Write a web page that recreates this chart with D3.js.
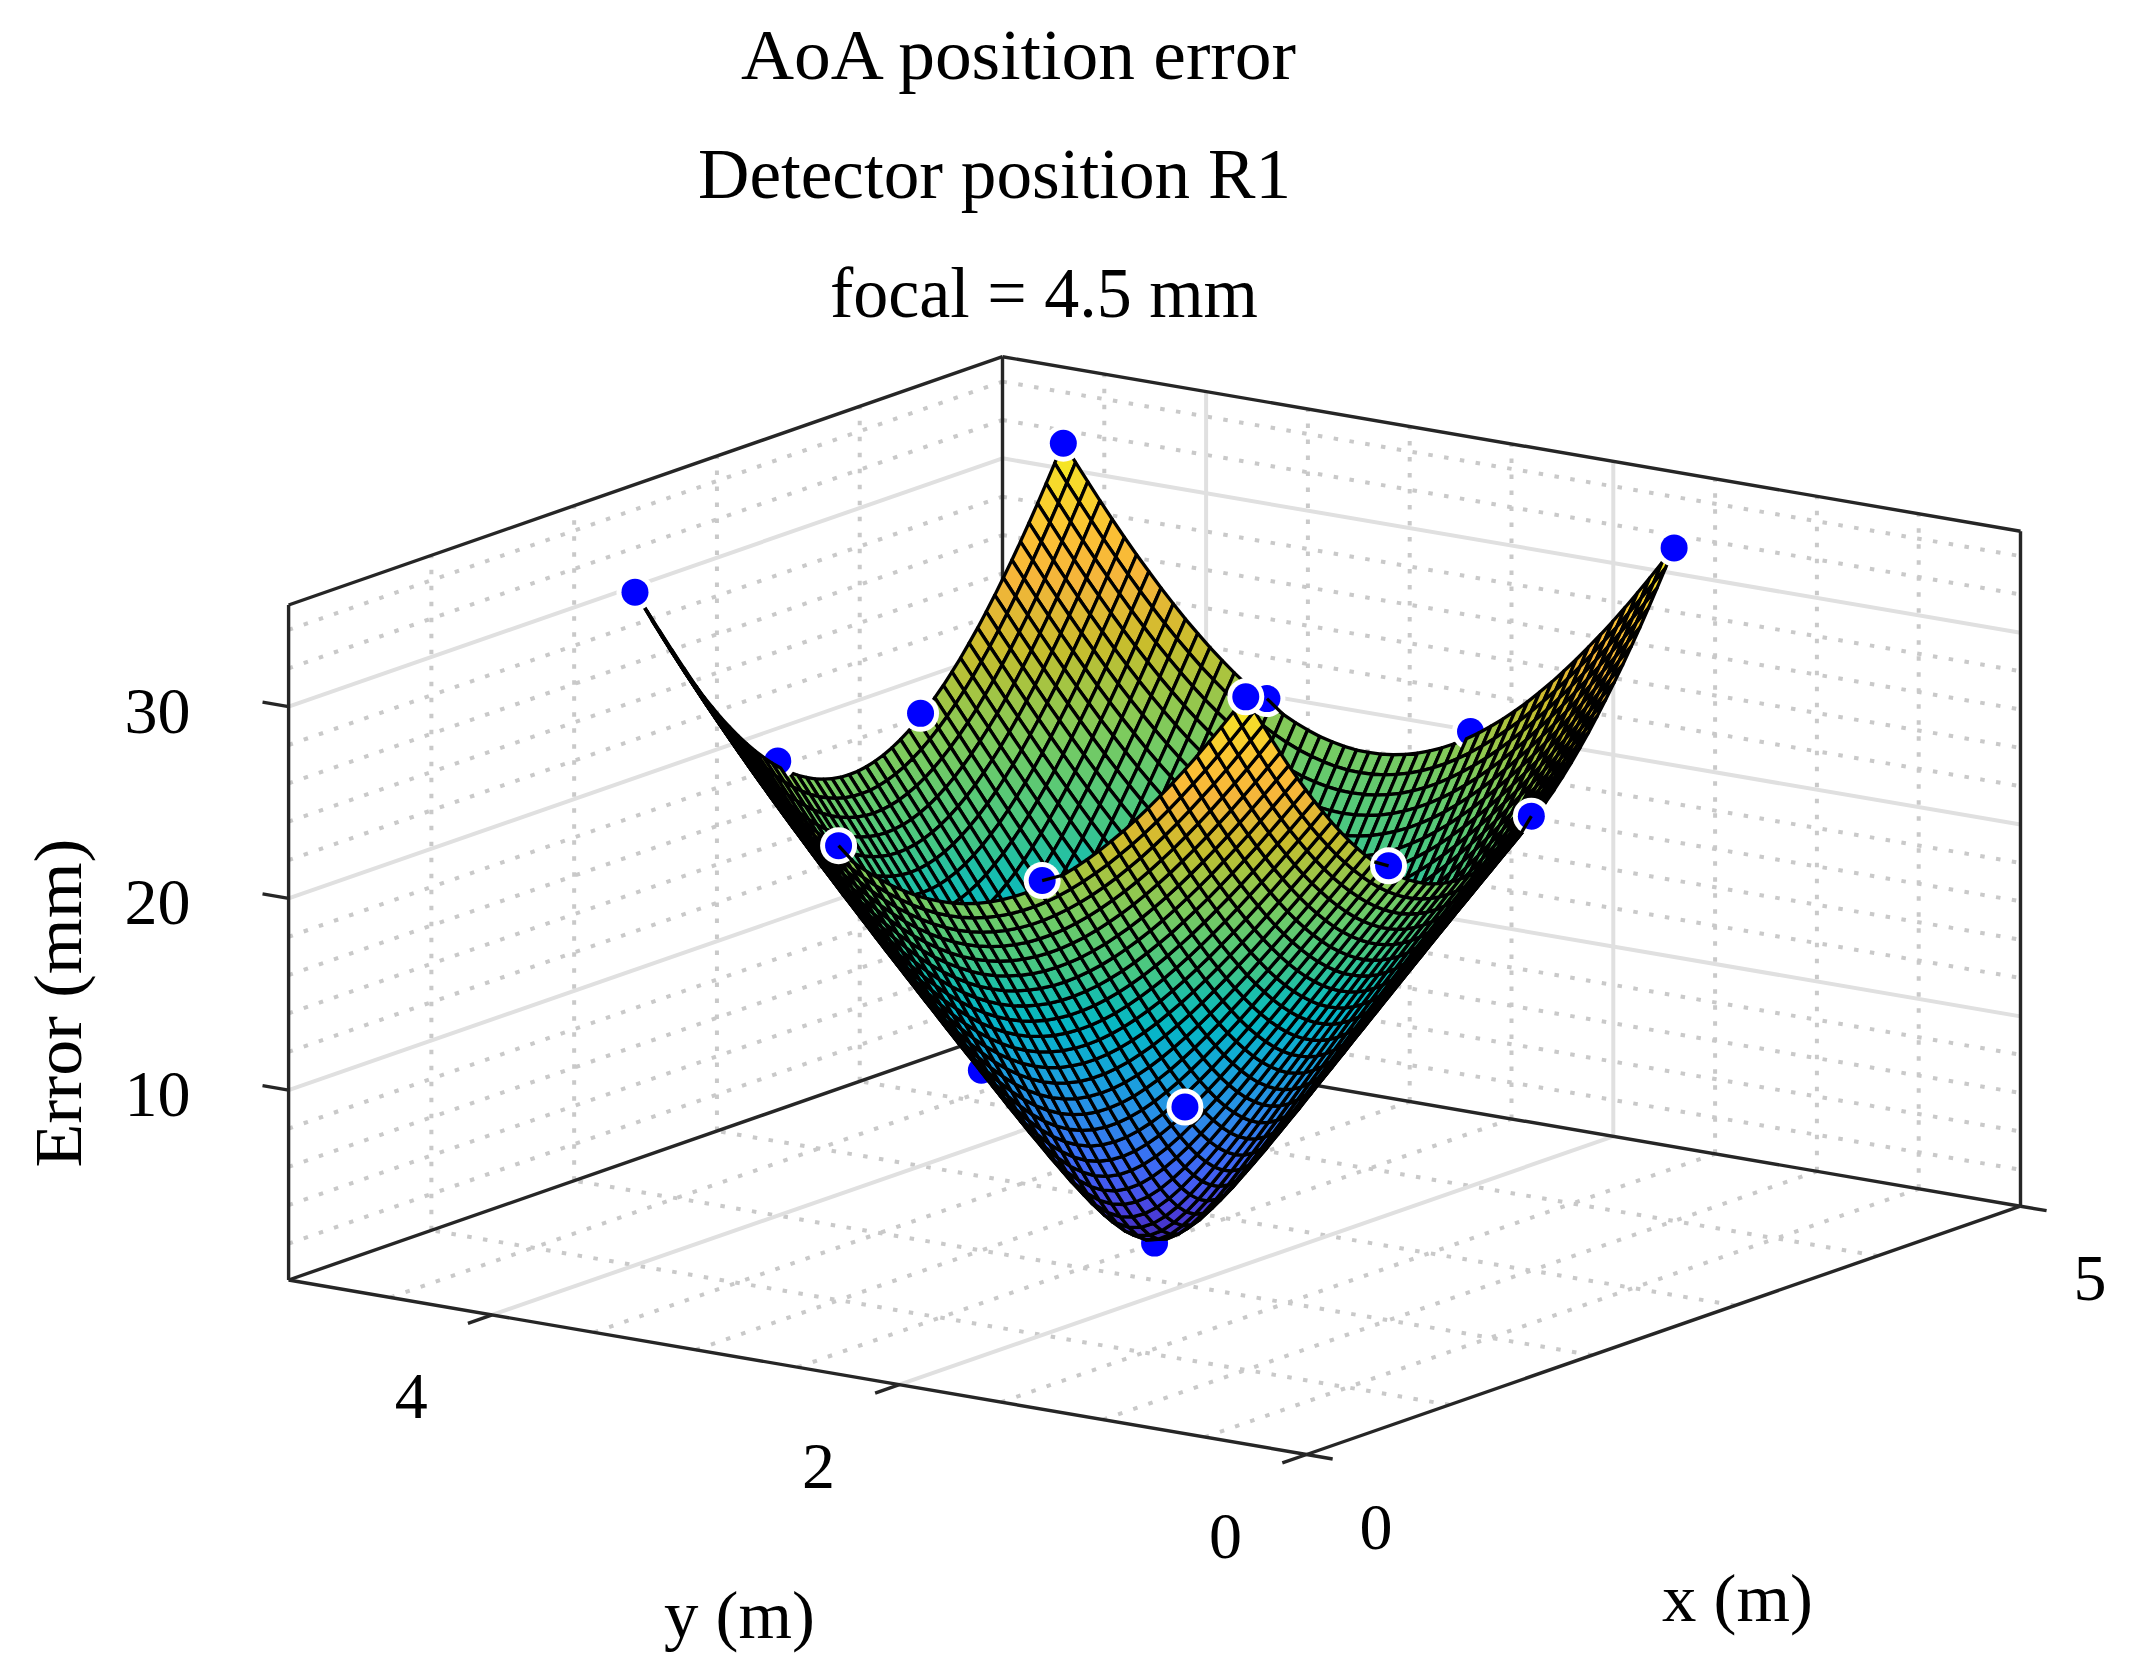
<!DOCTYPE html>
<html>
<head>
<meta charset="utf-8">
<script src="https://cdn.jsdelivr.net/npm/d3@7"></script>
<style>
  html, body { margin: 0; background: #fff; }
  text { font-family: "Liberation Serif", serif; fill: #000; }
</style>
</head>
<body>
<div id="chart"></div>
<script>
// measured points, read off the picture (x, y in m, error in mm)
// 3,2 and 3,3 are hidden behind the surface, so their values are a guess
var pointX = [4, 4, 1, 3, 2, 4, 3, 3, 2, 2.5, 2, 3, 4, 1, 1, 2, 1];
var pointY = [4, 1, 4, 4, 4, 3, 2, 3, 3, 2.5, 2, 1, 2, 2, 3, 1, 1];
var pointZ = [35.2, 35.2, 35.2, 23.7, 23.8, 23.7, 10.5, 9.4, 9.5, 0.1, 9.4, 23.8, 23.8, 23.8, 23.8, 23.8, 35.2];
// these sit in front of the mesh, the others go in depth order with it
var frontPoints = [0, 1, 2, 3, 5, 10, 11, 13, 14, 15, 16];
// points with a bit of mesh line showing on top: point, then mesh node (column, row)
var pokePoints = [[5, 50, 32], [11, 32, 0], [13, 0, 15], [14, 0, 32], [15, 15, 0]];

var xTicks = [0, 5], xMinor = [1, 2, 3, 4];
var yTicks = [0, 2, 4], yMinor = [0.5, 1, 1.5, 2.5, 3, 3.5, 4.5];
var zTicks = [10, 20, 30], zMinor = [2, 4, 6, 8, 12, 14, 16, 18, 22, 24, 26, 28, 32, 34];

var titleLines = ["AoA position error", "Detector position R1", "focal = 4.5 mm"];

var colorStops = [0, 0.07, 0.11, 0.17, 0.24, 0.32, 0.41, 0.47, 0.51, 0.565, 0.622, 0.693, 0.737, 0.82, 0.878, 0.963, 1];
var colorList = ["#3e26a8", "#4a3fdc", "#4558ef", "#3a6ff5", "#2b8be8", "#18a3dc", "#05b7c5", "#1dbfa8", "#45c785",
                 "#5cc974", "#7ccb5f", "#a8c440", "#c9bd2c", "#f5b53a", "#fcc035", "#f5e028", "#f8f01c"];

// surface error (mm), estimated by eye: smoothed through the 17 points above and the
// mesh edges in the picture. The mesh has 51 x 51 nodes over 1..4 m. The picture looks
// the same in all four quadrants and across the diagonal, so only one triangle is kept:
// row = nodes from the centre along the longer side, column = along the shorter side.
var errorRows = [
[0.30],
[0.43,0.56],
[0.81,0.93,1.28],
[1.39,1.50,1.81,2.30],
[2.10,2.20,2.48,2.92,3.49],
[2.92,3.00,3.25,3.64,4.16,4.79],
[3.79,3.87,4.09,4.44,4.92,5.49,6.14],
[4.71,4.78,4.98,5.30,5.73,6.25,6.85,7.52],
[5.66,5.72,5.90,6.19,6.58,7.06,7.62,8.25,8.93],
[6.62,6.67,6.84,7.10,7.46,7.91,8.43,9.01,9.66,10.35],
[7.59,7.64,7.79,8.03,8.37,8.78,9.26,9.81,10.42,11.07,11.77],
[8.57,8.62,8.75,8.98,9.29,9.67,10.12,10.64,11.21,11.83,12.50,13.20],
[9.55,9.60,9.72,9.93,10.22,10.57,11.00,11.49,12.03,12.62,13.26,13.93,14.63],
[10.53,10.57,10.69,10.88,11.15,11.49,11.89,12.35,12.87,13.43,14.04,14.68,15.36,16.07],
[11.51,11.54,11.65,11.84,12.09,12.41,12.79,13.23,13.72,14.26,14.84,15.47,16.12,16.81,17.53],
[12.48,12.51,12.62,12.79,13.03,13.33,13.69,14.11,14.58,15.10,15.66,16.26,16.90,17.57,18.27,18.99],
[13.45,13.48,13.58,13.74,13.97,14.26,14.60,15.00,15.45,15.95,16.50,17.08,17.69,18.35,19.03,19.74,20.47],
[14.41,14.44,14.53,14.69,14.91,15.18,15.51,15.90,16.33,16.81,17.34,17.90,18.51,19.14,19.81,20.50,21.22,21.97],
[15.36,15.39,15.48,15.63,15.84,16.10,16.42,16.80,17.21,17.68,18.19,18.74,19.33,19.95,20.60,21.29,22.00,22.73,23.49],
[16.31,16.33,16.42,16.57,16.77,17.02,17.33,17.69,18.10,18.55,19.05,19.59,20.16,20.77,21.41,22.09,22.79,23.51,24.26,25.04],
[17.24,17.27,17.36,17.50,17.69,17.94,18.24,18.59,18.98,19.43,19.91,20.44,21.00,21.60,22.24,22.90,23.59,24.31,25.06,25.83,26.62],
[18.17,18.20,18.28,18.42,18.61,18.85,19.14,19.48,19.87,20.30,20.78,21.30,21.85,22.44,23.07,23.73,24.41,25.13,25.87,26.64,27.43,28.24],
[19.09,19.12,19.20,19.33,19.52,19.75,20.04,20.37,20.75,21.18,21.65,22.16,22.71,23.29,23.91,24.56,25.25,25.96,26.70,27.47,28.26,29.07,29.91],
[20.00,20.03,20.11,20.24,20.42,20.65,20.93,21.26,21.64,22.06,22.52,23.02,23.56,24.14,24.76,25.41,26.09,26.80,27.54,28.31,29.11,29.92,30.76,31.63],
[20.91,20.93,21.01,21.14,21.32,21.54,21.82,22.14,22.51,22.93,23.39,23.89,24.43,25.00,25.62,26.26,26.94,27.66,28.40,29.17,29.97,30.79,31.64,32.51,33.40],
[21.80,21.82,21.90,22.03,22.20,22.43,22.70,23.02,23.39,23.80,24.26,24.75,25.29,25.86,26.48,27.12,27.81,28.52,29.27,30.04,30.84,31.67,32.53,33.41,34.31,35.24]
];

var w = 2129,
    h = 1679,
    svg = d3.select("#chart")
    .append("svg")
    .attr("width", w)
    .attr("height", h)
    .style("display", "block");

// corners of the axes box on the page. x=0,y=0 is the front corner
var front = [1306.6, 1454.5],
    xEdge = [713.9, -248.3],
    yEdge = [-1018, -174.5],
    zHeight = 675;

var xScale = d3.scaleLinear().domain([0, 5]).range([0, 1]);
var yScale = d3.scaleLinear().domain([0, 5]).range([0, 1]);
var zScale = d3.scaleLinear().domain([0.1, 35.3]).range([0, 1]);
var nodeScale = d3.scaleLinear().domain([0, 50]).range([1, 4]);
var colorScale = d3.scaleLinear().domain(colorStops.map(zScale.invert)).range(colorList);

var project = function(x, y, z) {
    var u = xScale(x), v = yScale(y), t = zScale(z);
    return [front[0] + u * xEdge[0] + v * yEdge[0],
            front[1] + u * xEdge[1] + v * yEdge[1] - t * zHeight];
};
var zLow = zScale.domain()[0], zHigh = zScale.domain()[1];
var line = d3.line();

// value at a mesh node, unfolded from the stored triangle
var nodeZ = function(i, j) {
    var a = Math.abs(i - 25), b = Math.abs(j - 25);
    return errorRows[Math.max(a, b)][Math.min(a, b)];
};

var seg = function(parent, a, b, color, width, dash) {
    parent.append("path")
        .attr("d", line([a, b]))
        .attr("fill", "none")
        .attr("stroke", color)
        .attr("stroke-width", width)
        .attr("stroke-dasharray", dash);
};

// grid, minor first then major
var grid = svg.append("g");
var minor = function(a, b) { seg(grid, a, b, "#c9c9c9", 4, "4.5 11.5"); };
var major = function(a, b) { seg(grid, a, b, "#e0e0e0", 4, null); };

zMinor.forEach(function(z) {
    minor(project(0, 5, z), project(5, 5, z));
    minor(project(5, 5, z), project(5, 0, z));
});
xMinor.forEach(function(x) {
    minor(project(x, 5, zLow), project(x, 5, zHigh));
    minor(project(x, 0, zLow), project(x, 5, zLow));
});
yMinor.forEach(function(y) {
    minor(project(5, y, zLow), project(5, y, zHigh));
    minor(project(0, y, zLow), project(5, y, zLow));
});
zTicks.forEach(function(z) {
    major(project(0, 5, z), project(5, 5, z));
    major(project(5, 5, z), project(5, 0, z));
});
yTicks.slice(1).forEach(function(y) {
    major(project(5, y, zLow), project(5, y, zHigh));
    major(project(0, y, zLow), project(5, y, zLow));
});

// box and ticks
var box = svg.append("g");
var boxLine = function(a, b) { seg(box, a, b, "#262626", 3.4, null); };
boxLine(project(0, 5, zLow), project(0, 5, zHigh));
boxLine(project(5, 0, zLow), project(5, 0, zHigh));
boxLine(project(5, 5, zLow), project(5, 5, zHigh));
boxLine(project(0, 5, zHigh), project(5, 5, zHigh));
boxLine(project(5, 5, zHigh), project(5, 0, zHigh));
boxLine(project(0, 5, zLow), project(5, 5, zLow));
boxLine(project(5, 5, zLow), project(5, 0, zLow));
boxLine(project(0, 5, zLow), project(0, 0, zLow));
boxLine(project(0, 0, zLow), project(5, 0, zLow));
zTicks.forEach(function(z) { boxLine(project(0, 5, z), project(0, 5.128, z)); });
yTicks.forEach(function(y) { boxLine(project(0, y, zLow), project(-0.17, y, zLow)); });
xTicks.forEach(function(x) { boxLine(project(x, 0, zLow), project(x, -0.128, zLow)); });

// surface and points, far to near
var depth = function(x, y) { return 150 * x + 105.2 * y; };
var items = [];
d3.range(50).forEach(function(i) {
    d3.range(50).forEach(function(j) {
        items.push({
            i: i, j: j,
            key: depth(nodeScale(i + 0.5), nodeScale(j + 0.5))
        });
    });
});
pointX.forEach(function(x, k) {
    if (frontPoints.indexOf(k) < 0) {
        items.push({ point: k, key: depth(x, pointY[k]) });
    }
});
items.sort(function(a, b) { return b.key - a.key; });

var surface = svg.append("g");

var drawPoint = function(k) {
    var p = project(pointX[k], pointY[k], pointZ[k]);
    surface.append("circle").attr("cx", p[0]).attr("cy", p[1]).attr("r", 18.5).attr("fill", "#fff");
    surface.append("circle").attr("cx", p[0]).attr("cy", p[1]).attr("r", 13.5).attr("fill", "#0000ff");
};

items.forEach(function(d) {
    if (d.point !== undefined) {
        drawPoint(d.point);
        return;
    }
    var corners = [[d.i, d.j], [d.i + 1, d.j], [d.i + 1, d.j + 1], [d.i, d.j + 1]];
    var zs = corners.map(function(c) { return nodeZ(c[0], c[1]); });
    var pts = corners.map(function(c, n) { return project(nodeScale(c[0]), nodeScale(c[1]), zs[n]); });
    surface.append("path")
        .attr("d", line(pts) + "Z")
        .attr("fill", colorScale(d3.mean(zs)))
        .attr("stroke", "#000")
        .attr("stroke-width", 3.3)
        .attr("stroke-linejoin", "round");
});

frontPoints.forEach(drawPoint);

pokePoints.forEach(function(d) {
    var k = d[0];
    seg(surface, project(pointX[k], pointY[k], pointZ[k]),
        project(nodeScale(d[1]), nodeScale(d[2]), nodeZ(d[1], d[2])), "#000", 3.3, null);
});

// text
var label = function(str, x, y, size, anchor, length) {
    var t = svg.append("text")
        .attr("x", x)
        .attr("y", y)
        .attr("font-size", size)
        .attr("text-anchor", anchor)
        .text(str);
    if (length) {
        t.attr("textLength", length).attr("lengthAdjust", "spacingAndGlyphs");
    }
    return t;
};

label(titleLines[0], 741, 79, 72, "start", 555);
label(titleLines[1], 698, 198, 72, "start", 593);
label(titleLines[2], 830, 317, 72, "start", 428);

zTicks.forEach(function(z) {
    var p = project(0, 5, z);
    label(z, p[0] - 98, p[1] + 26, 66, "end");
});
yTicks.forEach(function(y) {
    var p = project(0, y, zLow);
    label(y, p[0] - 81, p[1] + 103, 66, "middle");
});
xTicks.forEach(function(x) {
    var p = project(x, 0, zLow);
    label(x, p[0] + 69.5, p[1] + 94, 66, "middle");
});

label("x (m)", 1662, 1621, 68, "start", 151);
label("y (m)", 664, 1638, 68, "start", 151);
label("Error (mm)", 0, 0, 68, "middle", 329)
    .attr("transform", "translate(81,1003) rotate(-90)");
</script>
</body>
</html>
